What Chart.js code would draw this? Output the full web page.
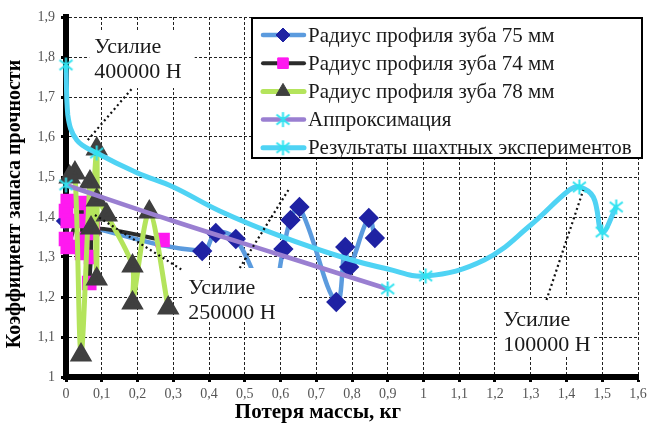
<!DOCTYPE html>
<html>
<head>
<meta charset="utf-8">
<script src="https://cdn.jsdelivr.net/npm/chart.js@4.4.0/dist/chart.umd.min.js"></script>
<style>
  html, body { margin: 0; padding: 0; background: #fff; }
  canvas { display: block; }
</style>
</head>
<body>
<canvas id="chart" width="651" height="429"></canvas>
<script>
// Values (x = потеря массы, кг; y = коэффициент запаса)
const r75X = [0, 0.381, 0.419, 0.475, 0.57, 0.608, 0.628, 0.653, 0.756, 0.781, 0.792, 0.847, 0.864];
const r75Y = [1.39, 1.315, 1.36, 1.345, 1.19, 1.32, 1.3925, 1.425, 1.1875, 1.325, 1.275, 1.3975, 1.3475];

const r74X = [0.005, 0.0, 0.005, 0.0, 0.005, 0.045, 0.045, 0.045, 0.045, 0.07, 0.07, 0.07, 0.065, 0.075, 0.27];
const r74Y = [1.44, 1.415, 1.39, 1.345, 1.325, 1.435, 1.39, 1.345, 1.31, 1.41, 1.36, 1.30, 1.235, 1.37, 1.3425];

const r78X = [0.01, 0.025, 0.042, 0.067, 0.07, 0.086, 0.086, 0.086, 0.114, 0.186, 0.186, 0.233, 0.286];
const r78Y = [1.50, 1.51, 1.055, 1.4875, 1.3725, 1.57, 1.245, 1.4425, 1.405, 1.2775, 1.185, 1.4125, 1.1725];

const approxX = [0, 0.3, 0.6, 0.9];
const approxY = [1.48, 1.39, 1.305, 1.22];
const approxMarked = [true, false, false, true];

const mineX = [0, 0.005, 0.03, 0.086, 0.2, 0.3, 0.43, 0.6, 0.78, 0.9, 1.006, 1.17, 1.3, 1.408, 1.436, 1.475, 1.5, 1.539];
const mineY = [1.78, 1.655, 1.5925, 1.56, 1.51, 1.475, 1.415, 1.352, 1.2975, 1.27, 1.2525, 1.2925, 1.38, 1.4675, 1.475, 1.45, 1.3625, 1.425];
const mineMarked = [true, false, false, true, false, false, false, false, false, false, true, false, false, false, true, false, true, true];

const seriesNames = [
  'Радиус профиля зуба 75 мм',
  'Радиус профиля зуба 74 мм',
  'Радиус профиля зуба 78 мм',
  'Аппроксимация',
  'Результаты шахтных экспериментов'
];

const xTicks = [0, 1.6, 0.1];
const yTicks = [1, 1.9, 0.1];

// callouts: box in data units [x0, x1, yTop, yBottom], leader lines, text
const callouts = [
  { text: ['Усилие', '400000 Н'], at: [0.079, 1.825], box: [0.065, 0.36, 1.8675, 1.7225],
    leaders: [[0.061, 1.5925, 0.186, 1.7225]] },
  { text: ['Усилие', '250000 Н'], at: [0.342, 1.2225], box: [0.325, 0.65, 1.2725, 1.1375],
    leaders: [[0.081, 1.405, 0.325, 1.2675], [0.486, 1.2725, 0.622, 1.4675]] },
  { text: ['Усилие', '100000 Н'], at: [1.223, 1.1425], box: [1.206, 1.475, 1.1975, 1.05],
    leaders: [[1.344, 1.1925, 1.447, 1.4675]] }
];

const SERIF = '"Liberation Serif", "DejaVu Serif", "Noto Serif", serif';

function pts(xs, ys) {
  return xs.map((x, i) => ({ x: x, y: ys[i] }));
}

// Excel-like asterisk marker
function makeStar(color) {
  const c = document.createElement('canvas');
  c.width = 17; c.height = 17;
  const g = c.getContext('2d');
  g.strokeStyle = color;
  g.lineWidth = 2;
  g.beginPath();
  g.moveTo(8.5, 1); g.lineTo(8.5, 16);
  g.moveTo(2, 3.5); g.lineTo(15, 13.5);
  g.moveTo(2, 13.5); g.lineTo(15, 3.5);
  g.stroke();
  return c;
}
const star = makeStar('#2fe3f0');

function fmt(v) {
  return String(Math.round(v * 10) / 10).replace('.', ',');
}

const datasets = [
  {
    label: seriesNames[0],
    data: pts(r75X, r75Y),
    borderColor: '#5b9bde',
    borderWidth: 4.5,
    tension: 0.4,
    pointStyle: 'rectRot',
    pointRadius: 7,
    pointBackgroundColor: '#1f22a3',
    pointBorderColor: '#1f22a3',
    order: 5
  },
  {
    label: seriesNames[1],
    data: pts(r74X, r74Y),
    borderColor: '#2b2b2b',
    borderWidth: 4,
    tension: 0.15,
    pointStyle: 'rect',
    pointRadius: 7.5,
    pointBackgroundColor: '#ff19f0',
    pointBorderColor: '#ff19f0',
    order: 4
  },
  {
    label: seriesNames[2],
    data: pts(r78X, r78Y),
    borderColor: '#b4e45c',
    borderWidth: 5,
    tension: 0.3,
    pointStyle: 'triangle',
    pointRadius: 8,
    pointBackgroundColor: '#3f3f3f',
    pointBorderColor: '#3f3f3f',
    order: 3
  },
  {
    label: seriesNames[3],
    data: pts(approxX, approxY),
    borderColor: '#9a7fd1',
    borderWidth: 4.5,
    tension: 0.4,
    pointStyle: star,
    pointRadius: approxMarked.map(m => m ? 8 : 0),
    order: 2
  },
  {
    label: seriesNames[4],
    data: pts(mineX, mineY),
    borderColor: '#4fd3f4',
    borderWidth: 5,
    tension: 0.4,
    pointStyle: star,
    pointRadius: mineMarked.map(m => m ? 8 : 0),
    order: 1
  }
];

const overlay = {
  id: 'overlay',
  afterDatasetsDraw(chart) {
    const ctx = chart.ctx;
    const xs = chart.scales.x, ys = chart.scales.y;
    const px = v => xs.getPixelForValue(v);
    const py = v => ys.getPixelForValue(v);
    ctx.save();

    // callout boxes, leaders and text
    callouts.forEach(c => {
      ctx.fillStyle = '#fff';
      ctx.fillRect(px(c.box[0]), py(c.box[2]), px(c.box[1]) - px(c.box[0]), py(c.box[3]) - py(c.box[2]));
    });
    ctx.strokeStyle = '#111';
    ctx.lineWidth = 2.2;
    ctx.setLineDash([2, 3]);
    callouts.forEach(c => {
      c.leaders.forEach(l => {
        ctx.beginPath();
        ctx.moveTo(px(l[0]), py(l[1]));
        ctx.lineTo(px(l[2]), py(l[3]));
        ctx.stroke();
      });
    });
    ctx.setLineDash([]);
    ctx.fillStyle = '#1a1a1a';
    ctx.font = '22px ' + SERIF;
    ctx.textAlign = 'left';
    ctx.textBaseline = 'middle';
    callouts.forEach(c => {
      c.text.forEach((t, i) => ctx.fillText(t, px(c.at[0]), py(c.at[1]) + i * 25));
    });

    // legend box
    const L = { left: 252, top: 18, right: 642, bottom: 158 };
    ctx.fillStyle = '#fff';
    ctx.fillRect(L.left, L.top, L.right - L.left, L.bottom - L.top);
    ctx.strokeStyle = '#000';
    ctx.lineWidth = 2;
    ctx.strokeRect(L.left, L.top, L.right - L.left, L.bottom - L.top);
    chart.data.datasets.forEach((ds, i) => {
      const yy = 35 + i * 28.2;
      ctx.strokeStyle = ds.borderColor;
      ctx.lineWidth = ds.borderWidth;
      ctx.lineCap = 'round';
      ctx.beginPath();
      ctx.moveTo(263, yy);
      ctx.lineTo(304, yy);
      ctx.stroke();
      ctx.lineCap = 'butt';
      ctx.fillStyle = ds.pointBackgroundColor || '#000';
      ctx.strokeStyle = ds.pointBorderColor || '#000';
      ctx.lineWidth = 1;
      Chart.helpers.drawPoint(ctx, {
        pointStyle: ds.pointStyle,
        radius: Array.isArray(ds.pointRadius) ? 8 : ds.pointRadius,
        rotation: 0,
        borderWidth: 1
      }, 283, yy);
      ctx.fillStyle = '#1a1a1a';
      ctx.font = '21px ' + SERIF;
      ctx.textAlign = 'left';
      ctx.textBaseline = 'middle';
      ctx.fillText(ds.label, 308, yy + 1);
    });
    ctx.restore();
  },
  afterDraw(chart) {
    const ctx = chart.ctx;
    ctx.save();
    ctx.fillStyle = '#000';
    ctx.textAlign = 'center';
    ctx.textBaseline = 'middle';
    ctx.font = 'bold 21px ' + SERIF;
    ctx.fillText('Потеря массы, кг', 318, 413);
    ctx.font = 'bold 20px ' + SERIF;
    ctx.translate(15, 204);
    ctx.rotate(-Math.PI / 2);
    ctx.fillText('Коэффициент запаса прочности', 0, 0);
    ctx.restore();
  }
};

const axisCommon = {
  type: 'linear',
  grid: {
    color: '#222',
    lineWidth: 1,
    tickColor: '#000',
    tickWidth: 3,
    tickLength: 5
  },
  border: { display: true, color: '#000', width: 6, dash: [3, 2] },
  ticks: {
    color: '#555',
    font: { family: SERIF, size: 14 },
    callback: v => fmt(v)
  }
};

new Chart(document.getElementById('chart'), {
  type: 'line',
  data: { datasets: datasets },
  options: {
    responsive: false,
    animation: false,
    events: [],
    devicePixelRatio: 1,
    layout: { padding: { left: 0, top: 17, right: 8, bottom: 0 } },
    datasets: { line: { clip: false } },
    plugins: { legend: { display: false }, tooltip: { enabled: false } },
    scales: {
      x: Object.assign({}, axisCommon, {
        min: xTicks[0], max: xTicks[1],
        ticks: Object.assign({}, axisCommon.ticks, { stepSize: xTicks[2], padding: 4, maxRotation: 0, autoSkip: false }),
        afterFit(scale) { scale.height = 52; scale.paddingLeft = 0; scale.paddingRight = 0; }
      }),
      y: Object.assign({}, axisCommon, {
        min: yTicks[0], max: yTicks[1],
        ticks: Object.assign({}, axisCommon.ticks, { stepSize: yTicks[2], padding: 6 }),
        afterFit(scale) { scale.width = 66; scale.paddingTop = 0; scale.paddingBottom = 0; }
      })
    }
  },
  plugins: [overlay]
});
</script>
</body>
</html>
